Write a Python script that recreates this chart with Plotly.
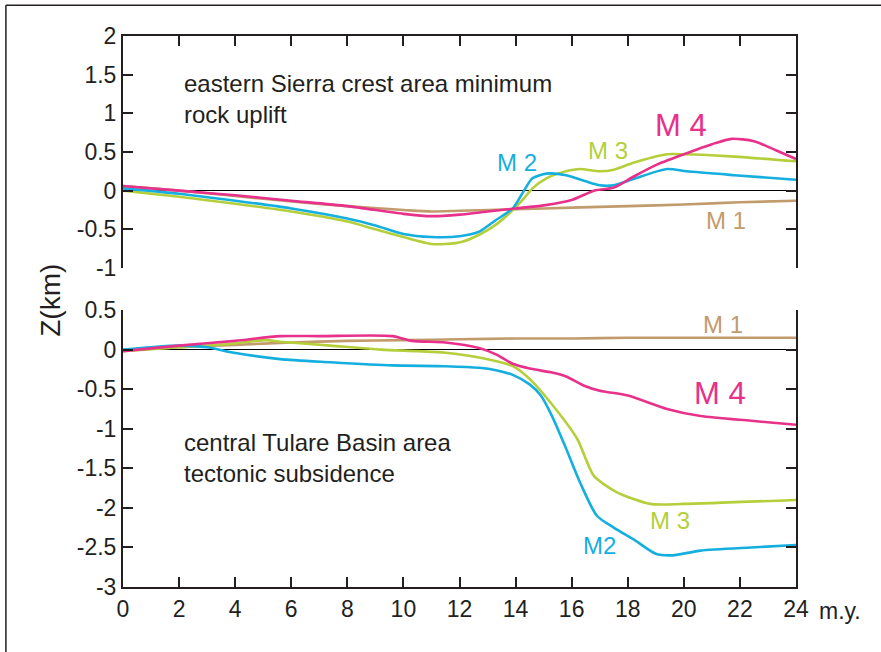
import plotly.graph_objects as go
from plotly.subplots import make_subplots

# ---- upper panel: eastern Sierra crest area minimum rock uplift (km) ----
m1_up_x = [0, 2, 4, 6, 8, 10, 11, 12, 14, 16, 18, 20, 22, 24]
m1_up_y = [0.06, 0.0, -0.07, -0.14, -0.2, -0.25, -0.27, -0.26, -0.24, -0.22, -0.2, -0.18, -0.15, -0.13]

m2_up_x = [0, 2, 4, 6, 8, 9, 10, 11, 12, 12.7, 13.3, 13.9, 14.3, 14.6, 15.1, 15.8, 16.5, 17.0, 17.5,
           18.2, 19.4, 20.1, 21.8, 24]
m2_up_y = [0.03, -0.04, -0.13, -0.23, -0.36, -0.45, -0.56, -0.6, -0.59, -0.53, -0.38, -0.23, 0.0, 0.16,
           0.22, 0.2, 0.12, 0.07, 0.07, 0.15, 0.28, 0.25, 0.2, 0.14]

m3_up_x = [0, 2, 4, 6, 8, 9, 10, 11, 11.5, 12.1, 12.7, 13.3, 13.9, 14.3, 14.6, 15.1, 15.8, 16.3, 17.0,
           17.5, 18.2, 19.4, 20, 21.8, 24]
m3_up_y = [0.0, -0.08, -0.17, -0.27, -0.4, -0.5, -0.6, -0.69, -0.69, -0.66, -0.57, -0.44, -0.25, -0.1,
           0.03, 0.16, 0.25, 0.28, 0.25, 0.27, 0.36, 0.47, 0.47, 0.44, 0.38]

m4_up_x = [0, 2, 4, 6, 8, 10, 11, 12, 13, 14, 15, 16, 16.8, 17.5, 18.2, 19, 20, 21, 21.7, 22.5, 23.3, 24]
m4_up_y = [0.06, 0.0, -0.06, -0.13, -0.2, -0.3, -0.33, -0.31, -0.27, -0.23, -0.19, -0.12, 0.0, 0.04,
           0.18, 0.33, 0.47, 0.6, 0.67, 0.64, 0.52, 0.41]

# ---- lower panel: central Tulare Basin area tectonic subsidence (km) ----
m1_lo_x = [0, 2, 4, 6, 8, 10, 12, 14, 16, 18, 20, 24]
m1_lo_y = [-0.01, 0.03, 0.06, 0.09, 0.11, 0.12, 0.13, 0.14, 0.14, 0.15, 0.15, 0.15]

m2_lo_x = [0, 1, 2, 3, 3.8, 5.6, 7.4, 9.6, 11.5, 12.7, 13.3, 13.9, 14.5, 14.9, 15.3, 15.8, 16.3, 16.9,
           17.5, 18.3, 19.0, 19.6, 20.6, 22.4, 24]
m2_lo_y = [0.0, 0.03, 0.05, 0.03, -0.03, -0.12, -0.16, -0.2, -0.21, -0.23, -0.26, -0.32, -0.44, -0.58,
           -0.84, -1.25, -1.68, -2.1, -2.25, -2.42, -2.58, -2.6, -2.54, -2.5, -2.47]

m3_lo_x = [0, 2, 3.8, 5.1, 5.6, 7.4, 9.2, 10.5, 11.5, 12.7, 13.9, 14.5, 15.2, 16.2, 16.5, 16.8, 17.6,
           18.8, 20, 24]
m3_lo_y = [-0.02, 0.03, 0.07, 0.12, 0.1, 0.05, 0.0, -0.02, -0.04, -0.1, -0.21, -0.37, -0.65, -1.13,
           -1.38, -1.6, -1.8, -1.95, -1.95, -1.9]

m4_lo_x = [0, 2, 4, 5.6, 7, 9.6, 10.3, 11.5, 12.7, 13.3, 13.9, 14.5, 15.3, 15.8, 16.4, 17.0, 18.0,
           19.4, 20.6, 22.4, 24]
m4_lo_y = [-0.02, 0.05, 0.11, 0.17, 0.17, 0.17, 0.11, 0.09, 0.02, -0.06, -0.18, -0.24, -0.29, -0.34,
           -0.45, -0.52, -0.58, -0.75, -0.84, -0.9, -0.95]

x_ticks = list(range(0, 25, 2))
x_tick_text = [str(v) for v in x_ticks]
up_y_ticks = [2, 1.5, 1, 0.5, 0, -0.5, -1]
up_y_text = ["2", "1.5", "1", "0.5", "0", "-0.5", "-1"]
lo_y_ticks = [0.5, 0, -0.5, -1, -1.5, -2, -2.5, -3]
lo_y_text = ["0.5", "0", "-0.5", "-1", "-1.5", "-2", "-2.5", "-3"]

C_M1 = "#c29b6c"
C_M2 = "#15afdf"
C_M3 = "#b4cf3a"
C_M4 = "#e7318a"
INK = "#231f20"
FONT = "Liberation Sans, Arial, sans-serif"
FS = 23   # tick labels
FT = 24   # panel captions and series labels

fig = make_subplots(rows=2, cols=1, shared_xaxes=False, vertical_spacing=0.0)

def add_line(x, y, color, row):
    fig.add_trace(go.Scatter(x=x, y=y, mode="lines",
                             line=dict(color=color, width=2.6, shape="spline", smoothing=0.7),
                             showlegend=False, hoverinfo="skip"), row=row, col=1)

# draw order: tan first, pink on top
add_line(m1_up_x, m1_up_y, C_M1, 1)
add_line(m3_up_x, m3_up_y, C_M3, 1)
add_line(m2_up_x, m2_up_y, C_M2, 1)
add_line(m4_up_x, m4_up_y, C_M4, 1)
add_line(m1_lo_x, m1_lo_y, C_M1, 2)
add_line(m3_lo_x, m3_lo_y, C_M3, 2)
add_line(m2_lo_x, m2_lo_y, C_M2, 2)
add_line(m4_lo_x, m4_lo_y, C_M4, 2)

# panel geometry (paper units): plot area 123..796 px wide, 36..587 px tall
fig.update_layout(
    width=881, height=652,
    margin=dict(l=123, r=85, t=36, b=65),
    paper_bgcolor="white", plot_bgcolor="white",
    font=dict(family=FONT, color=INK, size=FS),
)

axis_common = dict(showgrid=False, showline=True, linecolor=INK, linewidth=2,
                   ticks="inside", ticklen=10, tickwidth=1.5, tickcolor=INK)

fig.update_xaxes(range=[0, 24], tickvals=x_ticks, showticklabels=False, side="top",
                 zeroline=False, domain=[0, 1], row=1, col=1, **axis_common)
fig.update_xaxes(range=[0, 24], tickvals=x_ticks, ticktext=x_tick_text, showticklabels=True,
                 zeroline=False, domain=[0, 1], row=2, col=1,
                 tickfont=dict(size=FS, color=INK), **axis_common)
fig.update_yaxes(range=[-1, 2], tickvals=up_y_ticks, ticktext=up_y_text, mirror="ticks",
                 zeroline=True, zerolinecolor="#000000", zerolinewidth=1.2,
                 domain=[0.579, 1.0], row=1, col=1, tickfont=dict(size=FS, color=INK), **axis_common)
fig.update_yaxes(range=[-3, 0.5], tickvals=lo_y_ticks, ticktext=lo_y_text, mirror="ticks",
                 zeroline=True, zerolinecolor="#000000", zerolinewidth=1.2,
                 domain=[0.0, 0.5027], row=2, col=1, tickfont=dict(size=FS, color=INK), **axis_common)

annotations = [
    dict(x=2.1, y=1.19, xref="x", yref="y", xanchor="left", yanchor="middle", align="left",
         text="eastern Sierra crest area minimum<br>rock uplift", font=dict(size=FT, color=INK)),
    dict(x=2.1, y=-1.365, xref="x2", yref="y2", xanchor="left", yanchor="middle", align="left",
         text="central Tulare Basin area<br>tectonic subsidence", font=dict(size=FT, color=INK)),
    dict(x=14.05, y=0.36, xref="x", yref="y", text="M 2", font=dict(size=FT, color=C_M2)),
    dict(x=17.3, y=0.52, xref="x", yref="y", text="M 3", font=dict(size=FT, color=C_M3)),
    dict(x=19.9, y=0.84, xref="x", yref="y", text="M 4", font=dict(size=31, color=C_M4)),
    dict(x=21.5, y=-0.38, xref="x", yref="y", text="M 1", font=dict(size=FT, color=C_M1)),
    dict(x=21.4, y=0.32, xref="x2", yref="y2", text="M 1", font=dict(size=FT, color=C_M1)),
    dict(x=21.3, y=-0.56, xref="x2", yref="y2", text="M 4", font=dict(size=31, color=C_M4)),
    dict(x=19.5, y=-2.16, xref="x2", yref="y2", text="M 3", font=dict(size=FT, color=C_M3)),
    dict(x=17.0, y=-2.47, xref="x2", yref="y2", text="M2", font=dict(size=FT, color=C_M2)),
    # unit for the time axis, right after the last tick label
    dict(x=1.0308, y=-0.0436, xref="paper", yref="paper", xanchor="left", yanchor="middle",
         text="m.y.", font=dict(size=FS, color=INK)),
    dict(x=-0.108, y=0.52, xref="paper", yref="paper", textangle=-90, xanchor="center",
         yanchor="middle", text="Z(km)", font=dict(size=28, color=INK)),
]
for a in annotations:
    a.setdefault("showarrow", False)
fig.update_layout(annotations=annotations)

# outer frame (top and left edges)
fig.add_shape(type="line", xref="paper", yref="paper", x0=-0.174, x1=1.13, y0=1.056, y1=1.056,
              line=dict(color=INK, width=1.5))
fig.add_shape(type="line", xref="paper", yref="paper", x0=-0.174, x1=-0.174, y0=1.056, y1=-0.13,
              line=dict(color=INK, width=1.5))

fig.write_html("out.html")
